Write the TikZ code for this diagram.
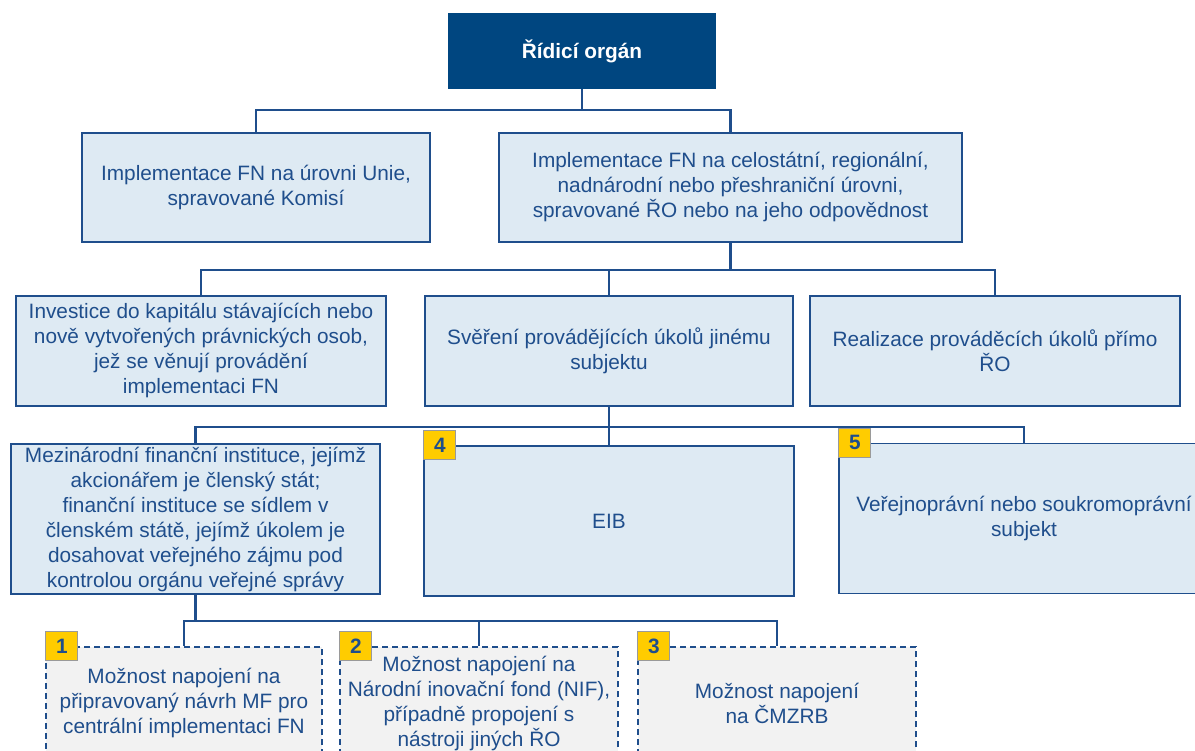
\documentclass[tikz,border=0pt]{standalone}
\usepackage{fontspec}
\setmainfont{Liberation Sans}
\usetikzlibrary{backgrounds}
\definecolor{dkblue}{HTML}{004680}
\definecolor{lnblue}{HTML}{1F4E8C}
\definecolor{txtblue}{HTML}{1F4E8C}
\definecolor{boxfill}{HTML}{DEEAF3}
\definecolor{dashfill}{HTML}{F2F2F2}
\definecolor{badgefill}{HTML}{FFCC00}
\definecolor{badgeline}{HTML}{9A9A9A}
\begin{document}
\begin{tikzpicture}[x=1pt,y=-1pt,
 base/.style={font=\fontsize{20.8}{25}\selectfont, align=center, inner sep=2pt, text=txtblue},
 solidbox/.style={base, draw=lnblue, line width=1.5pt, fill=boxfill},
 dashbox/.style={base, draw=lnblue, line width=1.5pt, fill=dashfill, dash pattern=on 6pt off 4pt},
 topbox/.style={base, fill=dkblue, text=white, font=\fontsize{20.8}{25}\selectfont\bfseries},
 badge/.style={draw=badgeline, line width=1.2pt, fill=badgefill, text=txtblue, font=\fontsize{20.8}{25}\selectfont\bfseries, minimum width=32pt, minimum height=29pt, inner sep=0pt, anchor=north west},
 conn/.style={draw=lnblue, line width=2.3pt}]
\useasboundingbox (0,0) rectangle (1195,751);
\clip (0,0) rectangle (1195,751);

\node[topbox, minimum width=268pt, minimum height=76pt] (top) at (582,51) {Řídicí orgán};

\node[solidbox, minimum width=348pt, minimum height=109pt] (A) at (256,187.5) {Implementace FN na úrovni Unie,\\spravované Komisí};
\node[solidbox, minimum width=463pt, minimum height=109pt] (B) at (730.5,187.5) {Implementace FN na celostátní, regionální,\\nadnárodní nebo přeshraniční úrovni,\\spravované ŘO nebo na jeho odpovědnost};

\node[solidbox, minimum width=370pt, minimum height=110pt] (C) at (201,351) {Investice do kapitálu stávajících nebo\\nově vytvořených právnických osob,\\jež se věnují provádění\\implementaci FN};
\node[solidbox, minimum width=368pt, minimum height=110pt] (D) at (609,351) {Svěření provádějících úkolů jinému\\subjektu};
\node[solidbox, minimum width=370pt, minimum height=110pt] (E) at (995,351) {Realizace prováděcích úkolů přímo\\ŘO};

\node[solidbox, minimum width=369pt, minimum height=150pt] (F) at (195.5,519) {Mezinárodní finanční instituce, jejímž\\akcionářem je členský stát;\\finanční instituce se sídlem v\\členském státě, jejímž úkolem je\\dosahovat veřejného zájmu pod\\kontrolou orgánu veřejné správy};
\node[solidbox, minimum width=370pt, minimum height=150pt] (G) at (609,521) {EIB};
\node[solidbox, minimum width=370pt, minimum height=150pt] (H) at (1024,518.5) {Veřejnoprávní nebo soukromoprávní\\subjekt};

\node[dashbox, minimum width=276pt, minimum height=112pt] (b1) at (184,703) {Možnost napojení na\\připravovaný návrh MF pro\\centrální implementaci FN};
\node[dashbox, minimum width=278pt, minimum height=112pt] (b2) at (479,703) {Možnost napojení na\\Národní inovační fond (NIF),\\případně propojení s\\nástroji jiných ŘO};
\node[dashbox, minimum width=278pt, minimum height=112pt] (b3) at (777,703) {Možnost napojení\\na ČMZRB};

\node[badge] (n4) at ([yshift=15pt]G.north west) {4};
\node[badge] (n5) at ([yshift=15pt]H.north west) {5};
\node[badge] (n1) at ([yshift=15pt]b1.north west) {1};
\node[badge] (n2) at ([yshift=15pt]b2.north west) {2};
\node[badge] (n3) at ([yshift=15pt]b3.north west) {3};

\begin{pgfonlayer}{background}
\fill[white] (0,0) rectangle (1195,751);
\coordinate (j1) at (582,110);
\draw[conn] (top.south) -- (j1);
\draw[conn] (A.north) |- (j1) -| (B.north);
\path (B.south) ++(0,27) coordinate (j2);
\draw[conn] (B.south) -- (j2);
\draw[conn] (C.north) |- (j2) -| (E.north);
\draw[conn] (D.north) |- (j2);
\path (D.south) ++(0,20) coordinate (j3);
\draw[conn] (D.south) -- (j3);
\draw[conn] (F.north) |- (j3) -| (H.north);
\draw[conn] (G.north) |- (j3);
\path (F.south) ++(0,26) coordinate (j4);
\draw[conn] (F.south) -- (j4);
\draw[conn] (b1.north) |- (j4) -| (b3.north);
\draw[conn] (b2.north) |- (j4);
\end{pgfonlayer}
\end{tikzpicture}
\end{document}
